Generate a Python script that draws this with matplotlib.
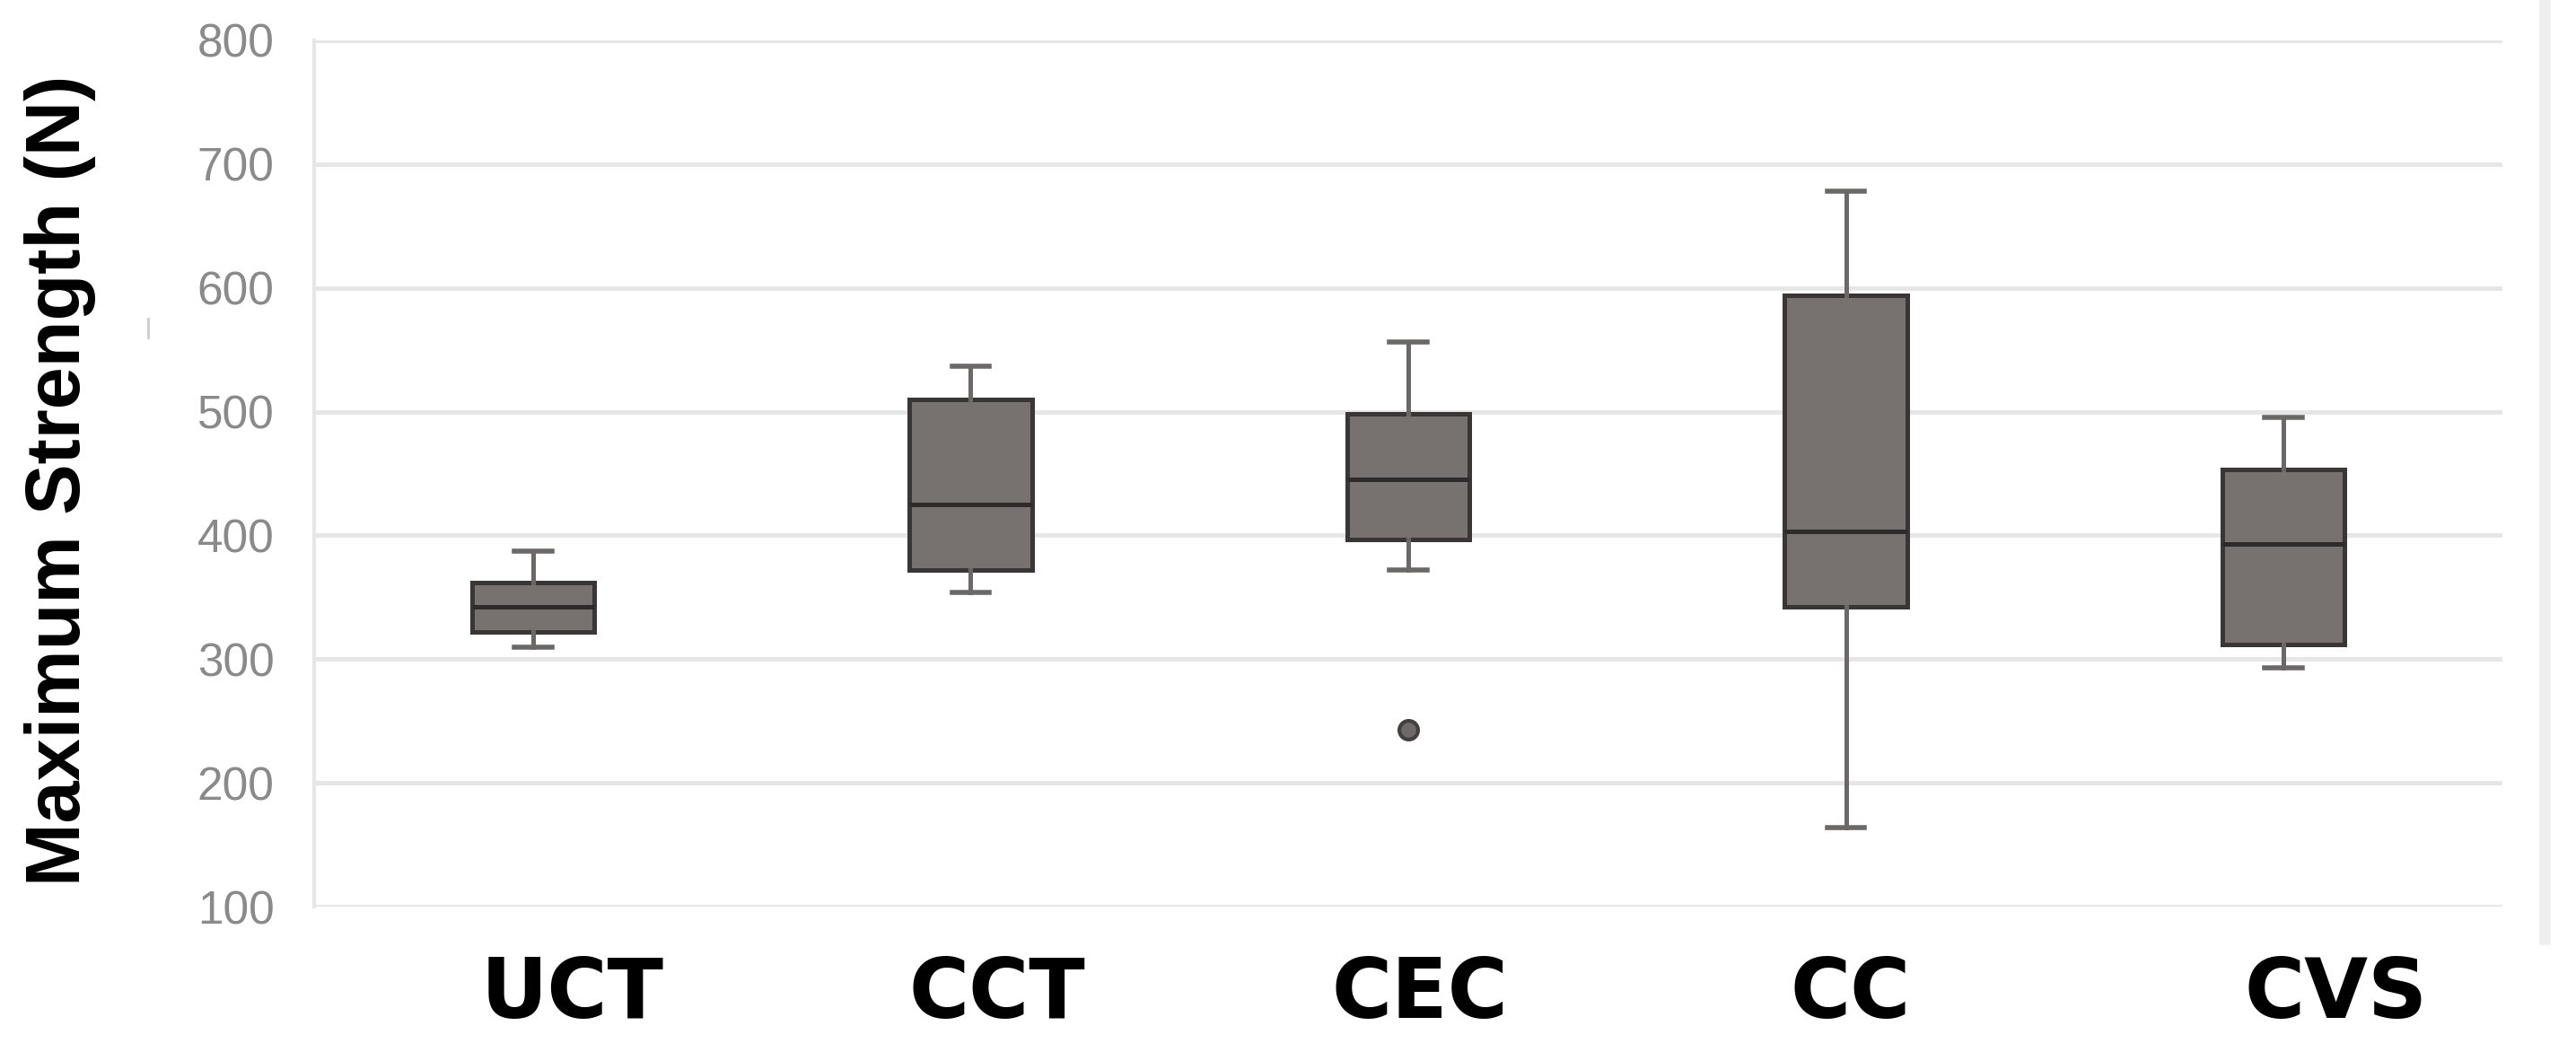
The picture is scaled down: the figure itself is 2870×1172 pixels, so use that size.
import matplotlib
matplotlib.use("Agg")
import matplotlib.pyplot as plt
from matplotlib.lines import Line2D

categories = ["UCT", "CCT", "CEC", "CC", "CVS"]
whisker_low = [310, 354, 372, 164, 293]
q1 = [322, 372, 397, 342, 312]
median = [342, 425, 445, 403, 393]
q3 = [362, 510, 498, 594, 453]
whisker_high = [387, 537, 556, 678, 495]
outliers = [[], [], [243], [], []]
label_shift = [0.09, 0.06, 0.027, 0.01, 0.12]
yticks = [100, 200, 300, 400, 500, 600, 700, 800]

fig = plt.figure(figsize=(28.7, 11.72), dpi=100)
ax = fig.add_axes([350 / 2870, 1 - 1010 / 1172, (2788 - 350) / 2870, (1010 - 45) / 1172])

stats = []
for i, c in enumerate(categories):
    stats.append(dict(label=c, whislo=whisker_low[i], q1=q1[i], med=median[i],
                      q3=q3[i], whishi=whisker_high[i], fliers=outliers[i]))

pos = list(range(len(categories)))
ax.bxp(stats, positions=pos, widths=0.28, capwidths=[0.085] * len(categories),
       patch_artist=True, showfliers=True,
       boxprops=dict(facecolor="#77716f", edgecolor="#3a3635", linewidth=3.6),
       medianprops=dict(color="#2e2b2a", linewidth=3.6),
       whiskerprops=dict(color="#6b6868", linewidth=3.6),
       capprops=dict(color="#6b6868", linewidth=4.0),
       flierprops=dict(marker="o", markersize=15, markerfacecolor="#6f6a69",
                       markeredgecolor="#444040", markeredgewidth=3))

ax.set_xlim(-0.5, len(categories) - 0.5)
ax.set_ylim(100, 800)
ax.set_yticks(yticks)
ax.set_yticklabels([str(t) for t in yticks], fontsize=37, color="#8a8a8a",
                   family=["Liberation Sans", "DejaVu Sans"])
ax.set_xticks([p + s for p, s in zip(pos, label_shift)])
ax.set_xticklabels(categories, fontsize=66, fontweight="bold", color="black",
                   family="DejaVu Sans")
ax.tick_params(axis="y", length=0, pad=32)
ax.tick_params(axis="x", length=0, pad=38)

ax.grid(axis="y", color="#e6e6e6", linewidth=3.5)
ax.set_axisbelow(True)
for s in ["top", "right", "bottom"]:
    ax.spines[s].set_visible(False)
ax.spines["left"].set_color("#e6e6e6")
ax.spines["left"].set_linewidth(3)

fig.text(67 / 2870, 1 - 535 / 1172, "Maximum Strength (N)", rotation=90,
         ha="center", va="center", fontsize=61, fontweight="bold",
         family=["Liberation Sans", "DejaVu Sans"], color="black")

fig.add_artist(Line2D([2835 / 2870, 2835 / 2870], [1.0, 1 - 1046 / 1172],
                      transform=fig.transFigure, color="#eeeeee", linewidth=9))
fig.add_artist(Line2D([165 / 2870, 165 / 2870], [1 - 355 / 1172, 1 - 376 / 1172],
                      transform=fig.transFigure, color="#cccccc", linewidth=2))

fig.savefig("out.png", dpi=100, facecolor="white")
